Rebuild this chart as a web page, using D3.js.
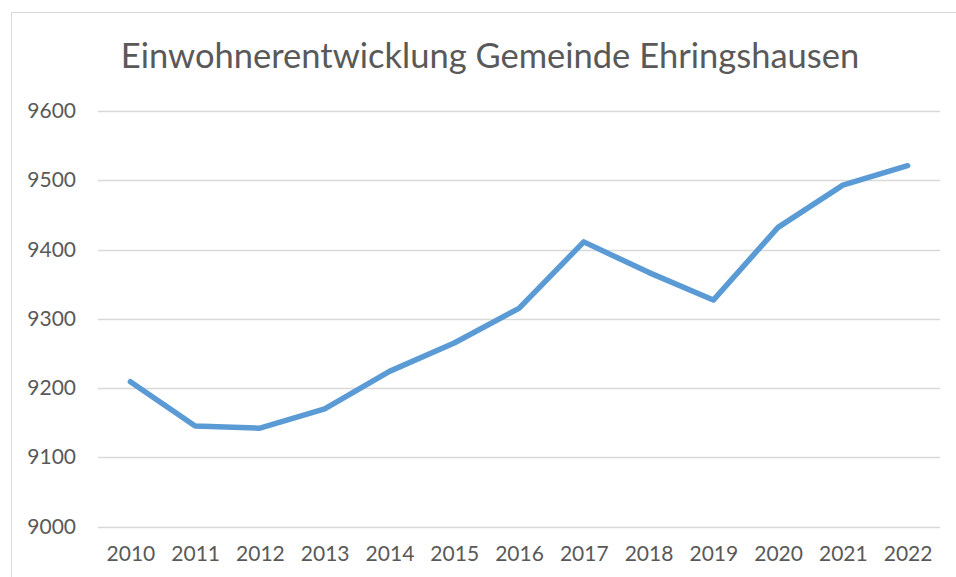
<!DOCTYPE html>
<html>
<head>
<meta charset="utf-8">
<script src="https://cdn.jsdelivr.net/npm/d3@7"></script>
<style>
  body { margin: 0; background: #fff; }
  svg { display: block; font-family: Lato, "Open Sans", sans-serif; }
</style>
</head>
<body>
<svg id="chart" width="956" height="577"></svg>
<script>
const years = [2010, 2011, 2012, 2013, 2014, 2015, 2016, 2017, 2018, 2019, 2020, 2021, 2022];
const population = [9209, 9145, 9142, 9170, 9224, 9265, 9315, 9411, 9367, 9327, 9432, 9493, 9521];
const yTicks = [9000, 9100, 9200, 9300, 9400, 9500, 9600];
const title = "Einwohnerentwicklung Gemeinde Ehringshausen";

const svg = d3.select("#chart");

// outer chart frame (runs off the right/bottom edge)
svg.append("rect")
  .attr("x", 11.5).attr("y", 12.5)
  .attr("width", 980).attr("height", 620)
  .attr("fill", "none")
  .attr("stroke", "#d9d9d9");

let margin = { top: 111, left: 98 };
let width = 940 - margin.left;
let height = 526.5 - margin.top;

let g = svg.append("g")
  .attr("transform", "translate(" + margin.left + "," + margin.top + ")");

let x = d3.scalePoint()
  .domain(years)
  .range([0, width])
  .padding(0.5);

let y = d3.scaleLinear()
  .domain([9000, 9600])
  .range([height, 0]);

// gridlines
g.selectAll("line.grid")
  .data(yTicks)
  .enter().append("line")
  .attr("class", "grid")
  .attr("x1", 0).attr("x2", width)
  .attr("y1", d => Math.round(y(d)) + 0.5)
  .attr("y2", d => Math.round(y(d)) + 0.5)
  .attr("stroke", "#d9d9d9")
  .attr("stroke-width", 1.3);

// y labels
let yAxis = d3.axisLeft(y).tickValues(yTicks).tickSize(0).tickPadding(22).tickFormat(d => d);
let yg = g.append("g").call(yAxis);
yg.select(".domain").remove();
yg.selectAll("text")
  .attr("fill", "#595959")
  .attr("font-size", "21px")
  .attr("font-family", "Lato, sans-serif");

// x labels
let xAxis = d3.axisBottom(x).tickSize(0).tickPadding(20).tickFormat(d => d);
let xg = g.append("g")
  .attr("transform", "translate(0," + height + ")")
  .call(xAxis);
xg.select(".domain").remove();
xg.selectAll("text")
  .attr("fill", "#595959")
  .attr("font-size", "21px")
  .attr("font-family", "Lato, sans-serif");

// the line
let line = d3.line()
  .x((d, i) => x(years[i]))
  .y(d => y(d));

g.append("path")
  .datum(population)
  .attr("d", line)
  .attr("fill", "none")
  .attr("stroke", "#5b9bd5")
  .attr("stroke-width", 5.5)
  .attr("stroke-linecap", "round")
  .attr("stroke-linejoin", "round");

// title
svg.append("text")
  .attr("x", 490)
  .attr("y", 68)
  .attr("text-anchor", "middle")
  .attr("fill", "#595959")
  .attr("font-size", "34.5px")
  .text(title);
</script>
</body>
</html>
